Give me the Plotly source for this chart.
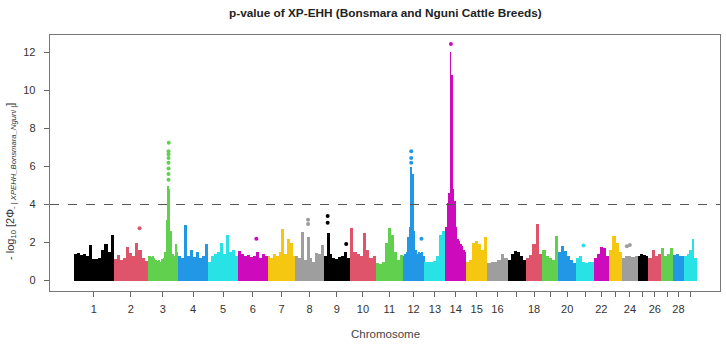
import plotly.graph_objects as go

# ---- data ----
chrom_names = [str(i) for i in range(1, 30)]
chrom_len_mb = [158.5, 136.2, 121.0, 120.0, 120.1, 117.8, 110.7, 113.3, 105.5, 103.3,
                107.0, 87.2, 83.5, 82.4, 85.0, 81.0, 73.2, 65.8, 63.4, 72.0,
                69.9, 60.8, 52.5, 62.3, 42.4, 52.0, 45.6, 45.9, 51.1]
tick_text = ["1", "2", "3", "4", "5", "6", "7", "8", "9", "10", "11", "12", "13", "14", "15",
             "16", "", "18", "", "20", "", "22", "", "24", "", "26", "", "28", ""]

# envelope of -log10 p per chromosome (equal-width windows along each chromosome)
chr1 = [1.4, 1.45, 1.35, 1.4, 1.3, 1.85, 1.15, 1.15, 1.2, 1.6, 1.9, 1.5, 2.4]
chr2 = [1.15, 1.35, 1.1, 1.2, 1.75, 1.45, 1.3, 1.95, 1.6, 1.2, 1.05]
chr3 = [1.3, 1.3, 1.25, 1.3, 1.2, 1.1, 1.05, 1.1, 1.0, 1.15, 1.2, 1.5, 3.2, 5.0, 4.8, 2.6, 1.4, 1.3, 1.9, 1.5]
chr4 = [1.3, 1.2, 2.9, 1.3, 1.6, 1.25, 1.5, 1.2, 1.3, 1.9]
chr5 = [1.0, 1.3, 1.4, 1.5, 2.0, 1.4, 2.4, 1.5, 1.6, 1.3]
chr6 = [1.55, 1.4, 1.3, 1.35, 1.25, 1.3, 1.5, 1.2, 1.4, 1.3]
chr7 = [1.3, 1.2, 1.4, 1.3, 1.5, 2.7, 1.4, 2.2, 2.0, 1.3]
chr8 = [1.3, 1.2, 2.55, 1.1, 2.3, 1.2, 1.0, 1.45, 1.4, 1.85]
chr9 = [1.3, 2.5, 1.4, 1.2, 1.15, 1.25, 1.3, 1.5, 1.2]
chr10 = [2.75, 1.5, 1.4, 1.3, 2.5, 1.6, 1.2, 1.3]
chr11 = [0.9, 0.85, 1.0, 2.0, 2.75, 2.4, 1.5, 1.1, 1.35]
chr12 = [1.3, 1.4, 1.5, 2.3, 2.8, 6.0, 5.6, 2.6, 1.6, 1.4, 1.5, 1.45, 1.5, 1.3]
chr13 = [1.0, 0.95, 1.0, 1.05, 1.3, 2.4, 2.6]
chr14 = [2.8, 4.1, 4.6, 12.0, 10.8, 4.8, 4.2, 2.8, 2.2, 2.1, 1.9, 1.8, 1.6, 1.5]
chr15 = [1.0, 1.1, 2.0, 2.1, 1.9, 1.6, 2.3]
chr16 = [0.9, 0.95, 1.0, 1.1, 1.4, 1.2]
chr17 = [1.1, 1.4, 1.55, 1.5, 1.3, 1.1]
chr18 = [1.2, 1.35, 1.9, 3.0, 1.4]
chr19 = [1.6, 1.3, 1.2, 1.1, 2.35]
chr20 = [1.5, 1.8, 1.55, 1.3, 1.1, 0.9]
chr21 = [1.2, 1.3, 1.0, 0.9, 1.0, 1.0]
chr22 = [1.2, 1.4, 1.75, 1.7, 1.3]
chr23 = [1.6, 2.35, 2.0, 1.5]
chr24 = [1.2, 1.3, 1.3, 1.25, 1.3]
chr25 = [1.3, 1.4, 1.35, 1.3]
chr26 = [1.2, 1.6, 1.3, 1.4]
chr27 = [1.7, 1.3, 1.4, 1.7]
chr28 = [1.35, 1.4, 1.3, 1.3]
chr29 = [1.3, 1.4, 1.6, 2.2, 1.2]
envelopes = [chr1, chr2, chr3, chr4, chr5, chr6, chr7, chr8, chr9, chr10, chr11, chr12, chr13,
             chr14, chr15, chr16, chr17, chr18, chr19, chr20, chr21, chr22, chr23, chr24,
             chr25, chr26, chr27, chr28, chr29]

# isolated SNPs standing above the envelope
snp_chrom = [2, 3, 3, 3, 3, 3, 3, 3, 3, 6, 8, 8, 9, 9, 9, 12, 12, 12, 12, 14, 21, 24, 24]
snp_pos_mb = [103.5, 83, 83, 83, 83, 83, 83, 83, 84, 73, 51, 51, 16, 16, 90, 34, 34, 34, 75, 22, 29, 19, 31]
snp_value = [2.75, 5.3, 5.6, 5.9, 6.2, 6.45, 6.65, 6.8, 7.25, 2.2, 2.97, 3.2, 3.04, 3.39, 1.92,
             6.2, 6.45, 6.8, 2.2, 12.45, 1.85, 1.8, 1.87]

threshold = 4
palette = ["#000000", "#DF536B", "#61D04F", "#2297E6", "#28E2E5", "#CD0BBC", "#F5C710", "#9E9E9E"]

# ---- build ----
offsets = []
acc = 0.0
for L in chrom_len_mb:
    offsets.append(acc)
    acc += L
total = acc
centers = [o + L / 2 for o, L in zip(offsets, chrom_len_mb)]

fig = go.Figure()
for ci, (env, L, off) in enumerate(zip(envelopes, chrom_len_mb, offsets)):
    w = L / len(env)
    xs = [off + (i + 0.5) * w for i in range(len(env))]
    fig.add_trace(go.Bar(x=xs, y=env, width=[w * 1.02] * len(env),
                         marker=dict(color=palette[ci % 8], line=dict(width=0)),
                         showlegend=False, hoverinfo="skip"))

sx = [offsets[c - 1] + p for c, p in zip(snp_chrom, snp_pos_mb)]
scol = [palette[(c - 1) % 8] for c in snp_chrom]
fig.add_trace(go.Scatter(x=sx, y=snp_value, mode="markers",
                         marker=dict(color=scol, size=4, line=dict(width=0)),
                         showlegend=False, hoverinfo="skip"))

px_per_mb = 623 / total
x0 = -24 / px_per_mb
x1 = total + 23 / px_per_mb

fig.add_shape(type="line", xref="paper", x0=0, x1=1, yref="y", y0=threshold, y1=threshold,
              line=dict(color="#555555", width=1, dash="dash"))

axis_font = dict(family="Liberation Sans, Arial, sans-serif", size=11, color="#333333")
fig.update_xaxes(range=[x0, x1], tickvals=centers, ticktext=tick_text, ticks="outside",
                 ticklen=5, tickcolor="#666666", showline=True, mirror=True,
                 linecolor="#777777", linewidth=1.3, showgrid=False, zeroline=False,
                 tickfont=axis_font, ticklabelstandoff=2, automargin=False)
fig.update_yaxes(range=[-0.55, 12.92], tickvals=[0, 2, 4, 6, 8, 10, 12], ticks="outside",
                 ticklen=5, tickcolor="#666666", showline=True, mirror=True,
                 linecolor="#777777", linewidth=1.3, showgrid=False, zeroline=False,
                 tickfont=axis_font, ticklabelstandoff=6, automargin=False)

fig.add_annotation(text="<b>p-value of XP-EHH (Bonsmara and Nguni Cattle Breeds)</b>",
                   xref="paper", yref="paper", x=0.5, y=1 + (35 - 13) / 256,
                   showarrow=False, xanchor="center", yanchor="middle",
                   font=dict(family="Liberation Sans, Arial, sans-serif", size=11.8, color="#222222"))
fig.add_annotation(text="Chromosome", xref="paper", yref="paper", x=0.5, y=-(334 - 291) / 256,
                   showarrow=False, xanchor="center", yanchor="middle",
                   font=dict(family="Liberation Sans, Arial, sans-serif", size=11.5, color="#444444"))
fig.add_annotation(text="- log<sub>10</sub> [2Φ<sub>- | <i>XPEHH_Bonsmara_Nguni</i> |</sub>]",
                   xref="paper", yref="paper", x=(11 - 50) / 670, y=(291 - 182) / 256,
                   showarrow=False, textangle=-90, xanchor="center", yanchor="middle",
                   font=dict(family="Liberation Sans, Arial, sans-serif", size=11, color="#333333"))

fig.update_layout(width=726, height=344, margin=dict(l=50, r=6, t=35, b=53),
                  paper_bgcolor="white", plot_bgcolor="white", barmode="overlay", bargap=0)
# remove the default 8 px page margin so the figure fills the window exactly
fig.write_html("out.html",
               config={"displayModeBar": False, "staticPlot": True},
               post_script="document.body.style.margin='0';document.body.style.overflow='hidden';")
